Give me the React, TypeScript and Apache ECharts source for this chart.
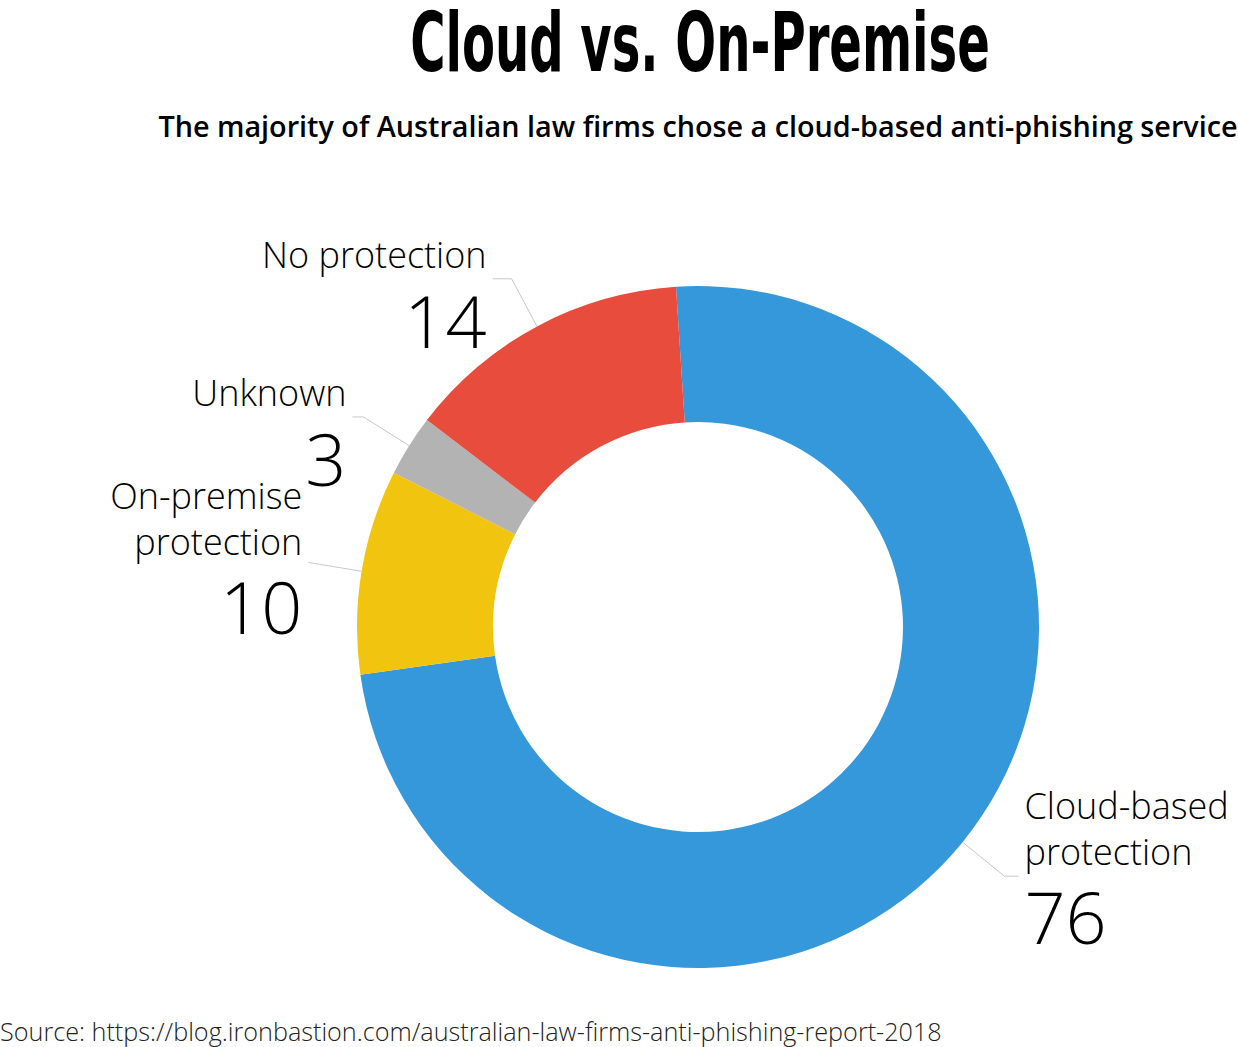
import React, { useEffect, useRef } from 'react';
import * as echarts from 'echarts';

const categories = ['Cloud-based\nprotection', 'On-premise\nprotection', 'Unknown', 'No protection'];
const values = [76, 10, 3, 14];
const colors = ['#3498db', '#f1c40f', '#b3b3b3', '#e74c3c'];

// per-label tweaks so the text sits where the original has it
const labelPadding = [
  [0, 0, 12, 0],
  [0, 0, 4, 0],
  [36, 0, 0, 0],
  [36, 0, 0, 0]
];
const lineLength2 = [14, 0, 11, 19];

const titleText = 'Cloud vs. On-Premise';
const subtitleText = 'The majority of Australian law firms chose a cloud-based anti-phishing service';
const sourceText = 'Source: https://blog.ironbastion.com/australian-law-firms-anti-phishing-report-2018';

// width of a string in a given font, used to fit texts to the original widths
const measure = (font: string, text: string) => {
  const ctx = document.createElement('canvas').getContext('2d');
  if (!ctx) return 1;
  ctx.font = font;
  return ctx.measureText(text).width || 1;
};

const App: React.FC = () => {
  const chartRef = useRef<HTMLDivElement>(null);

  useEffect(() => {
    document.body.style.margin = '0';
    if (!chartRef.current) return;
    const chart = echarts.init(chartRef.current, null, { renderer: 'svg' });

    const titleFont = "bold 81px 'Liberation Sans Narrow', 'DejaVu Sans Condensed', sans-serif";
    const titleScale = 580 / measure(titleFont, titleText);
    const subFont = "600 28px 'Open Sans'";
    const subScale = 1080 / measure(subFont, subtitleText);
    const srcFont = "300 25px 'Open Sans'";
    const srcScale = 942 / measure(srcFont, sourceText);

    const option: echarts.EChartsOption = {
      animation: false,
      backgroundColor: '#fff',
      graphic: [
        {
          type: 'text',
          x: 700,
          y: 2,
          scaleX: titleScale,
          style: {
            text: titleText,
            font: titleFont,
            fill: '#000',
            align: 'center',
            verticalAlign: 'top'
          } as any
        },
        {
          type: 'text',
          x: 698,
          y: 126,
          scaleX: subScale,
          style: {
            text: subtitleText,
            font: subFont,
            fill: '#000',
            align: 'center',
            verticalAlign: 'middle'
          } as any
        },
        {
          type: 'text',
          x: 0,
          y: 1031,
          scaleX: srcScale,
          style: {
            text: sourceText,
            font: srcFont,
            fill: '#222',
            align: 'left',
            verticalAlign: 'middle'
          } as any
        }
      ],
      series: [
        {
          type: 'pie',
          center: [698, 627],
          radius: [205, 341],
          startAngle: 93.7,
          clockwise: true,
          avoidLabelOverlap: false,
          labelLayout: { hideOverlap: false },
          data: categories.map((name, i) => ({
            name,
            value: values[i],
            itemStyle: { color: colors[i] },
            label: { padding: labelPadding[i] },
            labelLine: { length2: lineLength2[i] }
          })),
          label: {
            show: true,
            position: 'outside',
            distanceToLabelLine: 6,
            fontFamily: 'Open Sans',
            fontWeight: 300,
            color: '#000',
            formatter: (p: any) => `{n|${p.name.split('\n').join('}\n{n|')}}\n{v|${p.value}}`,
            rich: {
              n: {
                fontFamily: 'Open Sans',
                fontWeight: 300,
                fontSize: 36,
                lineHeight: 46,
                color: '#000'
              },
              v: {
                fontFamily: 'Open Sans',
                fontWeight: 300,
                fontSize: 72,
                lineHeight: 84,
                color: '#000'
              }
            }
          },
          labelLine: {
            show: true,
            length: 54,
            length2: 15,
            lineStyle: { color: '#c8c8c8', width: 1 }
          },
          emphasis: { disabled: true }
        }
      ]
    };

    chart.setOption(option);
    return () => {
      chart.dispose();
    };
  }, []);

  return <div ref={chartRef} style={{ width: '1238px', height: '1047px' }} />;
};

export default App;
